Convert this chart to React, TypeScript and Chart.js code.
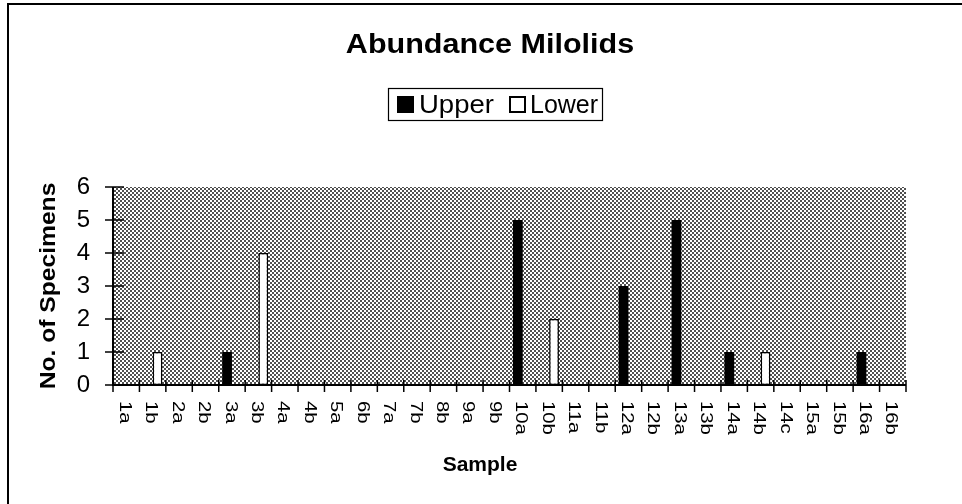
import React, { useEffect, useRef } from "react";
import { Chart, registerables } from "chart.js";

Chart.register(...registerables);

// ---- data ----
const categories = [
  "1a", "1b", "2a", "2b", "3a", "3b", "4a", "4b", "5a", "6b",
  "7a", "7b", "8b", "9a", "9b", "10a", "10b", "11a", "11b", "12a",
  "12b", "13a", "13b", "14a", "14b", "14c", "15a", "15b", "16a", "16b",
];
const upperValues = [
  0, 0, 0, 0, 1, 0, 0, 0, 0, 0,
  0, 0, 0, 0, 0, 5, 0, 0, 0, 3,
  0, 5, 0, 1, 0, 0, 0, 0, 1, 0,
];
const lowerValues = [
  0, 1, 0, 0, 0, 4, 0, 0, 0, 0,
  0, 0, 0, 0, 0, 0, 2, 0, 0, 0,
  0, 0, 0, 0, 1, 0, 0, 0, 0, 0,
];
const seriesNames = ["Upper", "Lower"];
const yMin = 0;
const yMax = 6;
const yStep = 1;
const titleText = "Abundance Milolids";
const xTitleText = "Sample";
const yTitleText = "No. of Specimens";

const FONT = '"Liberation Sans", Arial, Helvetica, sans-serif';

function drawText(
  ctx: CanvasRenderingContext2D,
  text: string,
  x: number,
  y: number,
  font: string,
  stretch: number,
  align: CanvasTextAlign,
  baseline: CanvasTextBaseline,
  rotation: number
) {
  ctx.save();
  ctx.translate(x, y);
  ctx.rotate(rotation);
  ctx.scale(stretch, 1);
  ctx.font = font;
  ctx.fillStyle = "#000";
  ctx.textAlign = align;
  ctx.textBaseline = baseline;
  ctx.fillText(text, 0, 0);
  ctx.restore();
}

function makePattern(ctx: CanvasRenderingContext2D): CanvasPattern | string {
  const c = document.createElement("canvas");
  c.width = 4;
  c.height = 4;
  const p = c.getContext("2d");
  if (!p) return "#aaa";
  p.fillStyle = "#ffffff";
  p.fillRect(0, 0, 4, 4);
  p.fillStyle = "#505050";
  p.fillRect(0, 0, 2, 2);
  p.fillRect(2, 2, 2, 2);
  return ctx.createPattern(c, "repeat") || "#aaa";
}

const customPlugin = {
  id: "customDecor",
  beforeDatasetsDraw(chart: any) {
    const { ctx, chartArea } = chart;
    ctx.save();
    ctx.fillStyle = makePattern(ctx);
    ctx.fillRect(
      chartArea.left,
      chartArea.top,
      chartArea.right - chartArea.left,
      chartArea.bottom - chartArea.top
    );
    ctx.restore();
  },
  afterDatasetsDraw(chart: any) {
    const { ctx, chartArea } = chart;
    const xs = chart.scales.x;
    const ys = chart.scales.y;
    ctx.save();
    ctx.strokeStyle = "#000";
    ctx.lineWidth = 2;
    ctx.beginPath();
    ctx.moveTo(chartArea.left, chartArea.top);
    ctx.lineTo(chartArea.left, chartArea.bottom);
    ctx.lineTo(chartArea.right, chartArea.bottom);
    ctx.stroke();
    ctx.lineWidth = 1.5;
    for (let v = yMin; v <= yMax; v += yStep) {
      const y = ys.getPixelForValue(v);
      ctx.beginPath();
      ctx.moveTo(chartArea.left - 8, y);
      ctx.lineTo(chartArea.left + 11, y);
      ctx.stroke();
    }
    const n = categories.length;
    const cw = (chartArea.right - chartArea.left) / n;
    for (let i = 0; i <= n; i++) {
      const x = i < n ? xs.getPixelForTick(i) - cw / 2 : xs.getPixelForTick(n - 1) + cw / 2;
      ctx.beginPath();
      ctx.moveTo(x, chartArea.bottom - 5);
      ctx.lineTo(x, chartArea.bottom + 7);
      ctx.stroke();
    }
    ctx.restore();
  },
  afterDraw(chart: any) {
    const { ctx, chartArea } = chart;
    const xs = chart.scales.x;
    ctx.save();
    ctx.strokeStyle = "#000";
    ctx.lineWidth = 2;
    ctx.beginPath();
    ctx.moveTo(8, 504);
    ctx.lineTo(8, 4);
    ctx.lineTo(962, 4);
    ctx.stroke();

    drawText(ctx, titleText, 490, 53, `bold 28px ${FONT}`, 1.09, "center", "alphabetic", 0);

    const bx = 388, by = 88, bw = 214, bh = 32;
    ctx.lineWidth = 1.2;
    ctx.strokeStyle = "#000";
    ctx.strokeRect(bx + 0.5, by + 0.5, bw, bh);
    const ds = chart.data.datasets;
    const sqX = [397, 509];
    const txX = [419, 530];
    ds.forEach((d: any, i: number) => {
      ctx.fillStyle = d.backgroundColor;
      ctx.fillRect(sqX[i], 96, 17, 17);
      ctx.strokeStyle = "#000";
      ctx.lineWidth = 2;
      ctx.strokeRect(sqX[i] + 1, 97, 15, 15);
      drawText(ctx, d.label, txX[i], 113, `25px ${FONT}`, i === 0 ? 1.1 : 1.0, "left", "alphabetic", 0);
    });

    drawText(ctx, yTitleText, 55, 286, `bold 22px ${FONT}`, 1.12, "center", "alphabetic", -Math.PI / 2);

    drawText(ctx, xTitleText, 480, 471, `bold 21px ${FONT}`, 1.0, "center", "alphabetic", 0);

    categories.forEach((c, i) => {
      const x = xs.getPixelForTick(i);
      drawText(ctx, c, x - 2, chartArea.bottom + 16, `16px ${FONT}`, 1.27, "left", "middle", Math.PI / 2);
    });
    ctx.restore();
  },
};

export default function App() {
  const ref = useRef<HTMLCanvasElement | null>(null);
  useEffect(() => {
    if (!ref.current) return;
    const chart = new Chart(ref.current, {
      type: "bar",
      data: {
        labels: categories,
        datasets: [
          {
            label: seriesNames[0],
            data: upperValues,
            backgroundColor: "#000000",
            borderWidth: 0,
            categoryPercentage: 0.74,
            barPercentage: 1.0,
          },
          {
            label: seriesNames[1],
            data: lowerValues,
            backgroundColor: "#ffffff",
            borderColor: "#000000",
            borderWidth: 1.5,
            borderSkipped: false,
            categoryPercentage: 0.74,
            barPercentage: 1.0,
          },
        ],
      },
      options: {
        animation: false,
        responsive: false,
        maintainAspectRatio: false,
        layout: { padding: { top: 187, right: 56, bottom: 0, left: 0 } },
        plugins: {
          legend: { display: false },
          title: { display: false },
          tooltip: { enabled: false },
        },
        scales: {
          x: {
            type: "category",
            offset: true,
            grid: { display: false, drawTicks: false },
            border: { display: false },
            ticks: { display: false },
            afterFit: (s: any) => {
              s.height = 119;
            },
          },
          y: {
            min: yMin,
            max: yMax,
            grid: { display: false, drawTicks: false },
            border: { display: false },
            ticks: {
              stepSize: yStep,
              color: "#000",
              padding: 23,
              font: { family: FONT, size: 24 },
            },
            afterFit: (s: any) => {
              s.width = 113;
            },
          },
        },
      },
      plugins: [customPlugin],
    } as any);
    return () => chart.destroy();
  }, []);
  return (
    <div style={{ position: "absolute", left: 0, top: 0, width: 962, height: 504, background: "#fff" }}>
      <canvas ref={ref} width={962} height={504} style={{ width: 962, height: 504, display: "block" }} />
    </div>
  );
}
